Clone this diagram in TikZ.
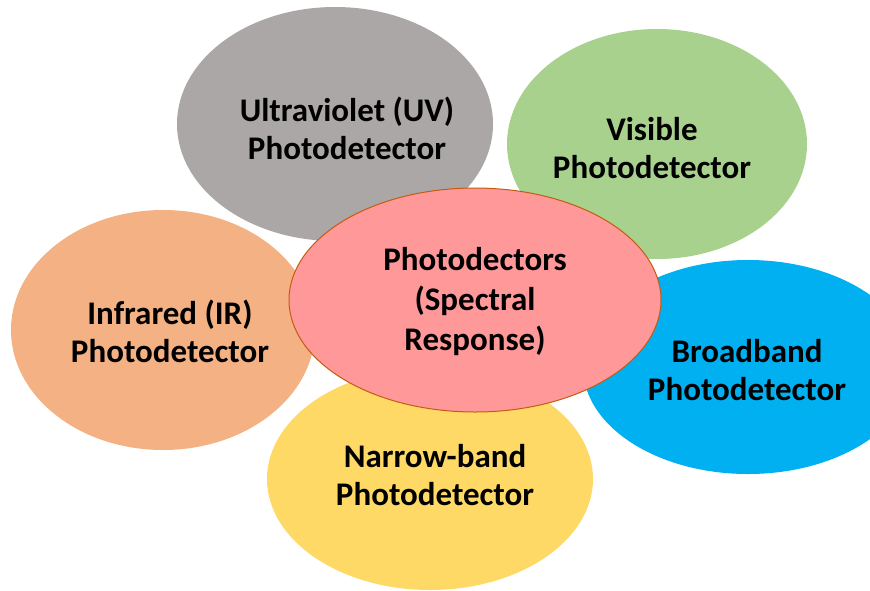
\documentclass[tikz,border=0pt]{standalone}
\usepackage{fontspec}
\setmainfont{Carlito}
\usetikzlibrary{shapes.geometric}
\definecolor{uvgray}{HTML}{ABA7A6}
\definecolor{visgreen}{HTML}{A9D18E}
\definecolor{irorange}{HTML}{F4B183}
\definecolor{bbblue}{HTML}{00B0F0}
\definecolor{nbyellow}{HTML}{FFD966}
\definecolor{pdpink}{HTML}{FF9999}
\definecolor{pdborder}{HTML}{C55A11}

\begin{document}
\begin{tikzpicture}[x=1pt,y=-1pt]
	\useasboundingbox (0,0) rectangle (870,590);
	\begin{scope}[every node/.style={ellipse,inner sep=0}]
	\node[fill=uvgray, minimum width=316pt, minimum height=234pt] (uv) at (335,124) {};
	\node[fill=visgreen, minimum width=300pt, minimum height=230pt] (vis) at (657,144) {};
	\node[fill=irorange, minimum width=304pt, minimum height=240pt] (ir) at (163,330) {};
	\node[fill=bbblue, minimum width=330pt, minimum height=214pt] (bb) at (748,367) {};
	\node[fill=nbyellow, minimum width=326pt, minimum height=222pt] (nb) at (430,479) {};
	
	\node[fill=pdpink, draw=pdborder, line width=1pt, minimum width=372pt, minimum height=224pt] (pd) at (475,300) {};
	\end{scope}
	
	\begin{scope}[every node/.style={align=center,inner sep=0,font=\fontsize{33}{38}\selectfont\bfseries}]
	\node (uvtext) at (347,128) {Ultraviolet (UV)\\Photodetector};
	\node (vistext) at (652,148) {Visible\\Photodetector};
	\node (irtext) at (170,331) {Infrared (IR)\\Photodetector};
	\node (bbtext) at (747,370) {Broadband\\Photodetector};
	\node (nbtext) at (435,475) {Narrow-band\\Photodetector};
	\node[font=\fontsize{33}{40}\selectfont\bfseries] (pdtext) at (475,302) {Photodectors\\(Spectral\\Response)};
	\end{scope}
\end{tikzpicture}
\end{document}
